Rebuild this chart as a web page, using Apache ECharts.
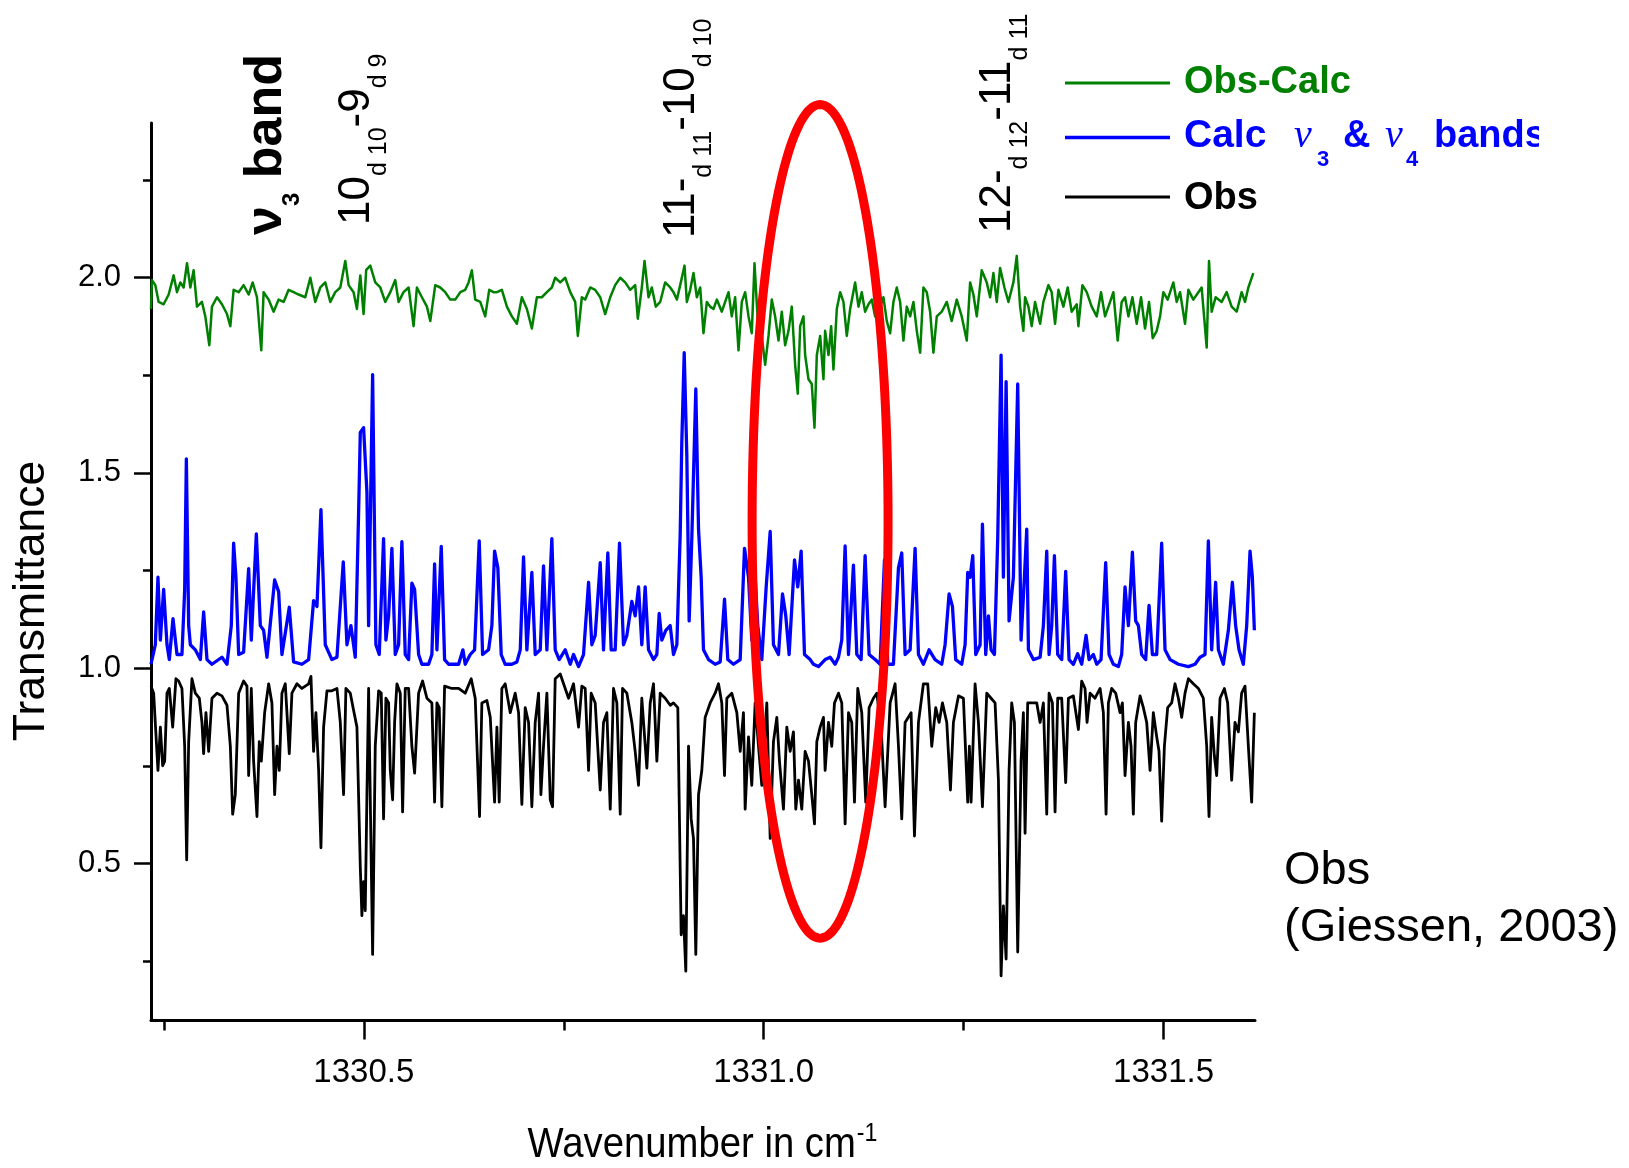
<!DOCTYPE html>
<html><head><meta charset="utf-8">
<script src="https://cdn.jsdelivr.net/npm/echarts@6/dist/echarts.min.js"></script>
<style>html,body{margin:0;padding:0;background:#fff}#c{width:1629px;height:1168px}</style>
</head><body><div id="c"></div>
<script>
// ---------- DATA ----------
const obsWn=[1330.2339,1330.2372,1330.2426,1330.2456,1330.2485,1330.2510,1330.2539,1330.2568,1330.2610,1330.2651,1330.2685,1330.2726,1330.2760,1330.2785,1330.2810,1330.2851,1330.2893,1330.2943,1330.2976,1330.2997,1330.3026,1330.3060,1330.3101,1330.3164,1330.3226,1330.3289,1330.3331,1330.3360,1330.3393,1330.3435,1330.3497,1330.3539,1330.3560,1330.3593,1330.3622,1330.3664,1330.3693,1330.3718,1330.3760,1330.3810,1330.3851,1330.3885,1330.3914,1330.3943,1330.3976,1330.4018,1330.4068,1330.4101,1330.4164,1330.4226,1330.4310,1330.4339,1330.4372,1330.4401,1330.4435,1330.4464,1330.4497,1330.4539,1330.4601,1330.4664,1330.4706,1330.4747,1330.4776,1330.4831,1330.4872,1330.4914,1330.4956,1330.4976,1330.4997,1330.5018,1330.5039,1330.5060,1330.5110,1330.5143,1330.5185,1330.5218,1330.5247,1330.5276,1330.5310,1330.5331,1330.5360,1330.5385,1330.5414,1330.5456,1330.5485,1330.5518,1330.5560,1330.5601,1330.5635,1330.5685,1330.5735,1330.5789,1330.5851,1330.5885,1330.5914,1330.5943,1330.5976,1330.6010,1330.6101,1330.6185,1330.6268,1330.6343,1330.6393,1330.6447,1330.6476,1330.6539,1330.6581,1330.6635,1330.6664,1330.6693,1330.6726,1330.6768,1330.6831,1330.6893,1330.6935,1330.6976,1330.7018,1330.7060,1330.7101,1330.7143,1330.7185,1330.7214,1330.7247,1330.7289,1330.7331,1330.7360,1330.7393,1330.7456,1330.7518,1330.7560,1330.7622,1330.7685,1330.7726,1330.7768,1330.7810,1330.7843,1330.7893,1330.7956,1330.7997,1330.8039,1330.8081,1330.8122,1330.8164,1330.8206,1330.8235,1330.8289,1330.8351,1330.8393,1330.8435,1330.8476,1330.8539,1330.8581,1330.8622,1330.8664,1330.8706,1330.8768,1330.8831,1330.8872,1330.8926,1330.8968,1330.8997,1330.9026,1330.9060,1330.9093,1330.9122,1330.9151,1330.9185,1330.9226,1330.9268,1330.9331,1330.9393,1330.9435,1330.9476,1330.9510,1330.9539,1330.9601,1330.9664,1330.9706,1330.9747,1330.9768,1330.9810,1330.9851,1330.9893,1330.9935,1330.9976,1331.0039,1331.0081,1331.0122,1331.0164,1331.0197,1331.0247,1331.0289,1331.0331,1331.0372,1331.0401,1331.0435,1331.0476,1331.0518,1331.0560,1331.0601,1331.0635,1331.0664,1331.0706,1331.0747,1331.0768,1331.0810,1331.0851,1331.0885,1331.0935,1331.0976,1331.1018,1331.1060,1331.1101,1331.1135,1331.1176,1331.1226,1331.1276,1331.1318,1331.1372,1331.1414,1331.1468,1331.1518,1331.1581,1331.1643,1331.1685,1331.1726,1331.1768,1331.1843,1331.1885,1331.1935,1331.1997,1331.2051,1331.2101,1331.2151,1331.2193,1331.2235,1331.2289,1331.2335,1331.2372,1331.2435,1331.2497,1331.2551,1331.2572,1331.2593,1331.2643,1331.2685,1331.2735,1331.2789,1331.2843,1331.2893,1331.2935,1331.2968,1331.2997,1331.3031,1331.3068,1331.3101,1331.3135,1331.3176,1331.3218,1331.3247,1331.3268,1331.3301,1331.3351,1331.3414,1331.3456,1331.3497,1331.3539,1331.3568,1331.3610,1331.3643,1331.3676,1331.3726,1331.3776,1331.3810,1331.3872,1331.3935,1331.3976,1331.4018,1331.4043,1331.4081,1331.4143,1331.4206,1331.4247,1331.4281,1331.4310,1331.4351,1331.4401,1331.4456,1331.4485,1331.4518,1331.4560,1331.4593,1331.4622,1331.4651,1331.4706,1331.4747,1331.4789,1331.4831,1331.4872,1331.4914,1331.4943,1331.4976,1331.5010,1331.5051,1331.5101,1331.5143,1331.5185,1331.5226,1331.5268,1331.5310,1331.5372,1331.5435,1331.5497,1331.5539,1331.5568,1331.5601,1331.5635,1331.5664,1331.5706,1331.5760,1331.5801,1331.5851,1331.5893,1331.5935,1331.5976,1331.6018,1331.6060,1331.6101,1331.6135];
const obsT=[0.954,0.936,0.738,0.849,0.750,0.762,0.936,0.948,0.849,0.973,0.967,0.948,0.800,0.509,0.812,0.973,0.936,0.923,0.861,0.781,0.886,0.787,0.923,0.936,0.929,0.905,0.800,0.626,0.676,0.936,0.967,0.954,0.725,0.948,0.762,0.620,0.812,0.762,0.886,0.960,0.911,0.676,0.800,0.738,0.936,0.960,0.781,0.936,0.960,0.948,0.960,0.979,0.787,0.886,0.738,0.540,0.849,0.942,0.942,0.948,0.861,0.676,0.948,0.936,0.892,0.849,0.490,0.366,0.453,0.379,0.676,0.948,0.267,0.800,0.942,0.936,0.614,0.923,0.911,0.738,0.663,0.861,0.960,0.936,0.632,0.948,0.948,0.800,0.731,0.936,0.967,0.923,0.911,0.657,0.911,0.899,0.645,0.954,0.948,0.948,0.936,0.973,0.923,0.620,0.911,0.917,0.874,0.657,0.849,0.657,0.948,0.960,0.886,0.936,0.886,0.651,0.899,0.861,0.645,0.861,0.936,0.676,0.800,0.936,0.663,0.645,0.973,0.985,0.948,0.923,0.960,0.849,0.954,0.948,0.738,0.936,0.911,0.688,0.861,0.886,0.639,0.948,0.911,0.626,0.948,0.936,0.861,0.787,0.700,0.923,0.744,0.911,0.960,0.762,0.936,0.923,0.905,0.911,0.899,0.317,0.366,0.224,0.800,0.614,0.564,0.267,0.676,0.738,0.874,0.911,0.936,0.960,0.911,0.725,0.923,0.936,0.886,0.787,0.886,0.639,0.824,0.700,0.911,0.800,0.700,0.911,0.564,0.812,0.874,0.762,0.639,0.849,0.787,0.837,0.639,0.713,0.639,0.787,0.762,0.676,0.601,0.812,0.849,0.874,0.738,0.861,0.800,0.911,0.936,0.911,0.601,0.886,0.861,0.657,0.948,0.886,0.657,0.899,0.923,0.936,0.849,0.645,0.911,0.960,0.800,0.614,0.861,0.886,0.570,0.861,0.960,0.960,0.800,0.899,0.861,0.911,0.861,0.688,0.861,0.929,0.923,0.657,0.800,0.657,0.960,0.861,0.645,0.936,0.923,0.911,0.713,0.212,0.391,0.255,0.738,0.911,0.861,0.273,0.762,0.886,0.577,0.911,0.911,0.911,0.861,0.911,0.626,0.936,0.911,0.632,0.923,0.923,0.707,0.923,0.929,0.843,0.967,0.948,0.861,0.936,0.923,0.948,0.886,0.626,0.911,0.948,0.936,0.886,0.911,0.725,0.861,0.800,0.626,0.861,0.929,0.899,0.861,0.738,0.886,0.824,0.787,0.608,0.800,0.899,0.911,0.960,0.923,0.874,0.936,0.973,0.960,0.948,0.923,0.800,0.620,0.874,0.775,0.725,0.923,0.948,0.911,0.713,0.861,0.837,0.936,0.954,0.800,0.657,0.886];

const calcWn=[1330.2339,1330.2393,1330.2426,1330.2456,1330.2497,1330.2539,1330.2568,1330.2614,1330.2664,1330.2726,1330.2760,1330.2781,1330.2810,1330.2831,1330.2893,1330.2956,1330.2997,1330.3039,1330.3101,1330.3226,1330.3289,1330.3343,1330.3372,1330.3401,1330.3435,1330.3497,1330.3560,1330.3593,1330.3656,1330.3706,1330.3747,1330.3789,1330.3885,1330.3935,1330.3976,1330.4068,1330.4122,1330.4226,1330.4310,1330.4372,1330.4414,1330.4464,1330.4518,1330.4601,1330.4664,1330.4743,1330.4789,1330.4839,1330.4893,1330.4935,1330.4956,1330.4997,1330.5039,1330.5060,1330.5110,1330.5151,1330.5193,1330.5247,1330.5276,1330.5310,1330.5351,1330.5393,1330.5435,1330.5476,1330.5518,1330.5560,1330.5601,1330.5635,1330.5685,1330.5726,1330.5810,1330.5851,1330.5885,1330.5914,1330.5968,1330.6010,1330.6060,1330.6185,1330.6239,1330.6268,1330.6331,1330.6385,1330.6443,1330.6485,1330.6560,1330.6601,1330.6635,1330.6676,1330.6718,1330.6768,1330.6851,1330.6914,1330.6956,1330.6997,1330.7039,1330.7101,1330.7143,1330.7206,1330.7247,1330.7289,1330.7351,1330.7393,1330.7443,1330.7518,1330.7581,1330.7622,1330.7685,1330.7747,1330.7810,1330.7851,1330.7893,1330.7956,1330.7997,1330.8051,1330.8093,1330.8143,1330.8197,1330.8247,1330.8289,1330.8351,1330.8393,1330.8435,1330.8476,1330.8518,1330.8560,1330.8622,1330.8664,1330.8693,1330.8726,1330.8776,1330.8831,1330.8872,1330.8914,1330.8956,1330.8976,1330.9006,1330.9039,1330.9068,1330.9101,1330.9151,1330.9185,1330.9218,1330.9247,1330.9310,1330.9393,1330.9456,1330.9510,1330.9551,1330.9622,1330.9706,1330.9760,1330.9810,1330.9851,1330.9893,1330.9926,1330.9976,1331.0031,1331.0081,1331.0122,1331.0185,1331.0235,1331.0276,1331.0318,1331.0385,1331.0426,1331.0468,1331.0510,1331.0581,1331.0622,1331.0685,1331.0768,1331.0831,1331.0893,1331.0935,1331.0976,1331.1018,1331.1060,1331.1122,1331.1164,1331.1218,1331.1268,1331.1318,1331.1393,1331.1456,1331.1510,1331.1551,1331.1622,1331.1685,1331.1726,1331.1768,1331.1831,1331.1893,1331.1935,1331.1997,1331.2068,1331.2143,1331.2226,1331.2268,1331.2318,1331.2360,1331.2401,1331.2476,1331.2518,1331.2551,1331.2581,1331.2614,1331.2651,1331.2706,1331.2735,1331.2776,1331.2810,1331.2843,1331.2885,1331.2926,1331.2968,1331.2997,1331.3031,1331.3068,1331.3122,1331.3176,1331.3218,1331.3260,1331.3289,1331.3310,1331.3372,1331.3456,1331.3497,1331.3539,1331.3568,1331.3601,1331.3635,1331.3676,1331.3726,1331.3776,1331.3818,1331.3872,1331.3926,1331.3976,1331.4031,1331.4068,1331.4122,1331.4164,1331.4218,1331.4276,1331.4318,1331.4372,1331.4435,1331.4476,1331.4518,1331.4560,1331.4610,1331.4651,1331.4685,1331.4726,1331.4776,1331.4818,1331.4860,1331.4914,1331.4976,1331.5018,1331.5081,1331.5185,1331.5310,1331.5393,1331.5456,1331.5518,1331.5560,1331.5601,1331.5651,1331.5685,1331.5747,1331.5810,1331.5860,1331.5901,1331.5943,1331.5997,1331.6039,1331.6081,1331.6110,1331.6135];
const calcT=[1.010,1.060,1.233,1.072,1.202,1.060,1.022,1.127,1.035,1.035,1.200,1.536,1.109,1.060,1.047,1.022,1.144,1.022,1.010,1.028,1.010,1.109,1.320,1.233,1.035,1.041,1.255,1.072,1.344,1.109,1.097,1.028,1.226,1.196,1.035,1.156,1.016,1.010,1.022,1.173,1.158,1.406,1.060,1.022,1.028,1.272,1.060,1.109,1.028,1.400,1.604,1.616,1.450,1.109,1.752,1.060,1.035,1.332,1.072,1.134,1.307,1.035,1.060,1.324,1.035,1.022,1.218,1.202,1.035,1.010,1.010,1.035,1.267,1.047,1.312,1.022,1.010,1.010,1.047,1.010,1.035,1.047,1.326,1.035,1.047,1.109,1.300,1.257,1.035,1.010,1.010,1.016,1.047,1.285,1.047,1.245,1.035,1.047,1.262,1.047,1.332,1.047,1.022,1.047,1.010,1.035,1.004,1.035,1.220,1.060,1.084,1.270,1.047,1.295,1.047,1.047,1.320,1.060,1.084,1.171,1.134,1.208,1.060,1.208,1.047,1.022,1.035,1.140,1.072,1.097,1.109,1.035,1.060,1.344,1.579,1.808,1.542,1.121,1.332,1.715,1.356,1.233,1.047,1.022,1.010,1.016,1.177,1.022,1.010,1.022,1.307,1.233,1.072,1.233,1.109,1.022,1.208,1.350,1.060,1.035,1.190,1.134,1.035,1.277,1.208,1.300,1.035,1.022,1.010,1.004,1.022,1.028,1.010,1.028,1.072,1.313,1.035,1.264,1.035,1.022,1.288,1.035,1.022,1.010,1.277,1.010,1.010,1.257,1.295,1.035,1.047,1.307,1.035,1.010,1.047,1.022,1.010,1.060,1.190,1.158,1.022,1.010,1.060,1.245,1.233,1.288,1.035,1.060,1.369,1.035,1.134,1.047,1.035,1.332,1.802,1.233,1.734,1.121,1.233,1.728,1.072,1.233,1.356,1.047,1.022,1.028,1.109,1.300,1.035,1.109,1.288,1.035,1.022,1.248,1.022,1.010,1.037,1.010,1.084,1.022,1.035,1.010,1.022,1.270,1.035,1.010,1.004,1.035,1.208,1.109,1.297,1.121,1.109,1.035,1.022,1.161,1.035,1.035,1.320,1.047,1.022,1.010,1.004,1.010,1.028,1.035,1.326,1.047,1.220,1.047,1.010,1.097,1.220,1.109,1.047,1.010,1.109,1.300,1.233,1.097];

const diffWn=[1330.2339,1330.2351,1330.2393,1330.2435,1330.2497,1330.2560,1330.2622,1330.2664,1330.2706,1330.2747,1330.2789,1330.2831,1330.2872,1330.2914,1330.2976,1330.3018,1330.3068,1330.3101,1330.3164,1330.3226,1330.3289,1330.3331,1330.3372,1330.3435,1330.3497,1330.3560,1330.3610,1330.3664,1330.3718,1330.3747,1330.3810,1330.3872,1330.3935,1330.3997,1330.4060,1330.4122,1330.4185,1330.4268,1330.4331,1330.4393,1330.4456,1330.4518,1330.4581,1330.4643,1330.4706,1330.4768,1330.4810,1330.4872,1330.4914,1330.4956,1330.4997,1330.5030,1330.5081,1330.5143,1330.5206,1330.5268,1330.5331,1330.5393,1330.5435,1330.5497,1330.5560,1330.5622,1330.5664,1330.5726,1330.5789,1330.5831,1330.5893,1330.5956,1330.6018,1330.6081,1330.6143,1330.6206,1330.6268,1330.6310,1330.6351,1330.6393,1330.6456,1330.6518,1330.6568,1330.6622,1330.6664,1330.6726,1330.6789,1330.6851,1330.6914,1330.6976,1330.7039,1330.7101,1330.7164,1330.7226,1330.7289,1330.7351,1330.7393,1330.7456,1330.7518,1330.7581,1330.7643,1330.7676,1330.7726,1330.7768,1330.7831,1330.7893,1330.7956,1330.8018,1330.8081,1330.8143,1330.8206,1330.8268,1330.8331,1330.8393,1330.8426,1330.8476,1330.8510,1330.8560,1330.8601,1330.8651,1330.8706,1330.8768,1330.8831,1330.8872,1330.8914,1330.8956,1330.9010,1330.9039,1330.9081,1330.9122,1330.9164,1330.9206,1330.9247,1330.9289,1330.9331,1330.9372,1330.9414,1330.9476,1330.9518,1330.9560,1330.9601,1330.9643,1330.9685,1330.9726,1330.9768,1330.9810,1330.9851,1330.9885,1330.9926,1330.9976,1331.0018,1331.0060,1331.0101,1331.0143,1331.0185,1331.0226,1331.0268,1331.0310,1331.0351,1331.0393,1331.0426,1331.0456,1331.0497,1331.0518,1331.0560,1331.0601,1331.0635,1331.0664,1331.0706,1331.0747,1331.0768,1331.0810,1331.0843,1331.0872,1331.0914,1331.0956,1331.0997,1331.1039,1331.1081,1331.1143,1331.1185,1331.1226,1331.1268,1331.1310,1331.1351,1331.1393,1331.1435,1331.1497,1331.1539,1331.1581,1331.1622,1331.1664,1331.1706,1331.1747,1331.1789,1331.1831,1331.1872,1331.1914,1331.1956,1331.1997,1331.2039,1331.2081,1331.2122,1331.2164,1331.2226,1331.2289,1331.2351,1331.2414,1331.2476,1331.2539,1331.2581,1331.2622,1331.2664,1331.2726,1331.2789,1331.2831,1331.2872,1331.2914,1331.2956,1331.3010,1331.3060,1331.3122,1331.3164,1331.3206,1331.3247,1331.3268,1331.3310,1331.3351,1331.3393,1331.3456,1331.3497,1331.3560,1331.3601,1331.3643,1331.3685,1331.3747,1331.3801,1331.3851,1331.3914,1331.3935,1331.3985,1331.4039,1331.4101,1331.4164,1331.4218,1331.4268,1331.4331,1331.4372,1331.4426,1331.4476,1331.4518,1331.4560,1331.4610,1331.4664,1331.4718,1331.4768,1331.4818,1331.4864,1331.4914,1331.4956,1331.4997,1331.5051,1331.5122,1331.5164,1331.5206,1331.5268,1331.5310,1331.5372,1331.5435,1331.5476,1331.5539,1331.5568,1331.5601,1331.5651,1331.5726,1331.5789,1331.5851,1331.5914,1331.5976,1331.6018,1331.6060,1331.6122];
const diffT=[1.920,1.994,1.981,1.938,1.932,1.957,2.006,1.963,1.988,1.975,2.037,1.975,2.019,1.926,1.938,1.901,1.827,1.926,1.950,1.932,1.907,1.876,1.969,1.963,1.981,1.957,1.988,1.950,1.814,1.963,1.944,1.913,1.944,1.938,1.969,1.963,1.957,1.950,2.000,1.938,1.975,1.988,1.938,1.963,1.975,2.043,1.981,1.963,1.920,2.006,1.907,2.020,2.031,1.988,1.975,1.938,1.963,1.994,1.938,1.963,1.975,1.876,1.975,1.950,1.926,1.889,1.981,1.975,1.963,1.944,1.944,1.963,1.969,1.988,2.019,1.944,1.938,1.901,1.969,1.963,1.963,1.969,1.926,1.901,1.882,1.950,1.920,1.870,1.950,1.950,1.963,1.975,2.000,1.988,2.000,1.963,1.938,1.851,1.950,1.944,1.975,1.969,1.950,1.907,1.950,1.981,2.000,1.988,1.969,1.981,1.895,1.975,2.043,1.950,1.975,1.926,1.938,1.988,1.975,1.963,1.944,1.981,2.031,1.938,1.969,2.012,1.950,1.975,1.858,1.938,1.926,1.920,1.944,1.913,1.938,1.963,1.901,1.950,1.814,1.938,1.963,1.901,1.858,2.037,1.889,1.851,1.777,1.851,1.944,1.901,1.839,1.913,1.827,1.864,1.926,1.777,1.703,1.876,1.901,1.802,1.740,1.728,1.616,1.802,1.851,1.740,1.864,1.802,1.876,1.765,1.920,1.963,1.938,1.851,1.920,1.988,1.926,1.963,1.913,1.932,1.944,1.901,1.913,1.950,1.889,1.858,1.938,1.975,1.938,1.839,1.926,1.901,1.938,1.864,1.808,1.975,1.963,1.913,1.808,1.901,1.913,1.938,1.889,1.944,1.901,1.839,1.988,1.957,1.901,2.019,1.988,1.950,2.012,1.938,2.025,1.975,1.938,1.988,2.056,1.926,1.864,1.950,1.926,1.876,1.938,1.882,1.938,1.981,1.963,1.882,1.969,1.926,1.975,1.913,1.932,1.876,1.981,1.963,1.926,1.901,1.963,1.901,1.938,1.963,1.839,1.938,1.950,1.901,1.950,1.882,1.950,1.870,1.938,1.845,1.864,1.901,1.963,1.944,1.988,1.938,1.963,1.882,1.969,1.944,1.963,1.975,1.821,2.043,1.913,1.950,1.938,1.963,1.926,1.913,1.963,1.938,1.975,2.012];

// axis ticks / labels / titles
const xRange=[1330.2339,1331.6143];
const yRange=[0.0976,2.3963];
const xMajorTicks=[1330.5,1331.0,1331.5];
const xMinorTicks=[1330.25,1330.75,1331.25];
const yMajorTicks=[0.5,1.0,1.5,2.0];
const yMinorTicks=[0.25,0.75,1.25,1.75,2.25];
const xTitle=['Wavenumber in cm','-1'];
const yTitle='Transmittance';

// ---------- CHART ----------
const FONT='"Liberation Sans", Arial, Helvetica, sans-serif';
const SERIF='"Liberation Serif", "Times New Roman", serif';
const GREEN='#008000', BLUE='#0000ff', BLACK='#000000';
const chart=echarts.init(document.getElementById('c'),null,{renderer:'canvas',width:1629,height:1168});
const zip=(a,b)=>a.map((v,i)=>[v,b[i]]);

const tickStyle={color:'#000',width:2.5};
const option={
  animation:false,
  backgroundColor:'#fff',
  grid:{left:151,right:374,top:123,bottom:147.5,containLabel:false,outerBoundsMode:'none'},
  xAxis:[{
    type:'value',min:xRange[0],max:xRange[1],position:'bottom',
    axisLine:{show:true,onZero:false,lineStyle:{color:'#000',width:3}},
    axisTick:{show:true,customValues:xMajorTicks,length:19,lineStyle:tickStyle},
    axisLabel:{show:true,customValues:xMajorTicks,formatter:v=>v.toFixed(1),fontSize:33,color:'#000',fontFamily:FONT,margin:36},
    splitLine:{show:false}
  },{
    type:'value',min:xRange[0],max:xRange[1],position:'bottom',
    axisLine:{show:false,onZero:false},
    axisTick:{show:true,customValues:xMinorTicks,length:10,lineStyle:tickStyle},
    axisLabel:{show:false},splitLine:{show:false}
  }],
  yAxis:[{
    type:'value',min:yRange[0],max:yRange[1],position:'left',
    axisLine:{show:true,onZero:false,lineStyle:{color:'#000',width:3}},
    axisTick:{show:true,customValues:yMajorTicks,length:17,lineStyle:tickStyle},
    axisLabel:{show:true,customValues:yMajorTicks,formatter:v=>v.toFixed(1),fontSize:31,color:'#000',fontFamily:FONT,margin:30},
    splitLine:{show:false}
  },{
    type:'value',min:yRange[0],max:yRange[1],position:'left',
    axisLine:{show:false,onZero:false},
    axisTick:{show:true,customValues:yMinorTicks,length:8,lineStyle:tickStyle},
    axisLabel:{show:false},splitLine:{show:false}
  }],
  series:[
    {name:'Obs',type:'line',data:zip(obsWn,obsT),showSymbol:false,symbol:'none',clip:true,
     lineStyle:{color:BLACK,width:2.8,join:'round'},itemStyle:{color:BLACK},z:2},
    {name:'Calc',type:'line',data:zip(calcWn,calcT),showSymbol:false,symbol:'none',clip:true,
     lineStyle:{color:BLUE,width:3.3,join:'round'},itemStyle:{color:BLUE},z:3},
    {name:'Obs-Calc',type:'line',data:zip(diffWn,diffT),showSymbol:false,symbol:'none',clip:true,
     lineStyle:{color:GREEN,width:2.5,join:'round'},itemStyle:{color:GREEN},z:4}
  ]
};
chart.setOption(option);

// ---------- ANNOTATIONS ----------
const ctx=document.createElement('canvas').getContext('2d');
function tw(t,size,weight,family,style){ctx.font=(style||'normal')+' '+(weight||'normal')+' '+size+'px '+(family||FONT);return ctx.measureText(t).width;}
function txt(t,x,y,size,opt){
  opt=opt||{};
  return {type:'text',x:x,y:y,rotation:opt.rotation||0,scaleX:opt.sx||1,scaleY:1,z:60,silent:true,
    style:{text:t,fontSize:size,fontFamily:opt.family||FONT,fontWeight:opt.bold?'bold':'normal',
      fontStyle:opt.italic?'italic':'normal',fill:opt.color||'#000',
      align:opt.align||'left',verticalAlign:'middle',textAlign:opt.align||'left',textVerticalAlign:'middle'}};
}
// horizontal text with given left x and baseline y
function hText(t,x,base,size,opt){return txt(t,x,base-0.3465*size,size,opt);}
// rotated (bottom-to-top) text built from parts; xb = baseline x, y0 = starting (bottom) y
function rotLabel(parts,xb,y0,color){
  let y=y0;const els=[];
  parts.forEach(p=>{
    const w=tw(p.t,p.size,p.bold?'bold':'normal');
    els.push(txt(p.t,xb+(p.sub||0)-0.3465*p.size,y,p.size,{rotation:Math.PI/2,bold:p.bold,color:color}));
    y-=w;
  });
  return els;
}
const g=[];
// band label and transition labels
g.push(...rotLabel([{t:'ν',size:52,bold:true},{t:'3',size:24,bold:true,sub:16},{t:' band',size:52,bold:true}],285,235));
g.push(...rotLabel([{t:'10',size:44},{t:'d 10',size:25,sub:16},{t:'-9',size:44},{t:'d 9',size:25,sub:16}],372,225));
g.push(...rotLabel([{t:'11-',size:44},{t:'d 11',size:25,sub:16},{t:'-10',size:44},{t:'d 10',size:25,sub:16}],697,238));
g.push(...rotLabel([{t:'12-',size:44},{t:'d 12',size:25,sub:16},{t:'-11',size:44},{t:'d 11',size:25,sub:16}],1013,233));
// axis titles
g.push(txt(yTitle,31.5,601,44.5,{rotation:Math.PI/2,align:'center'}));
(function(){
  const sx=0.89, s1=43, s2=26;
  const w1=tw(xTitle[0],s1)*sx, w2=tw(xTitle[1],s2)*sx;
  const x0=702-(w1+w2)/2;
  g.push(hText(xTitle[0],x0,1160,s1,{sx:sx}));
  g.push(hText(xTitle[1],x0+w1+1,1143,s2,{sx:sx}));
})();
// legend
g.push({type:'line',shape:{x1:1065,y1:83,x2:1170,y2:83},style:{stroke:GREEN,lineWidth:3},z:60,silent:true});
g.push(hText('Obs-Calc',1184,96,38,{bold:true,color:GREEN}));
g.push({type:'line',shape:{x1:1065,y1:137.5,x2:1170,y2:137.5},style:{stroke:BLUE,lineWidth:3.5},z:60,silent:true});
g.push(hText('Calc',1184,150,39,{bold:true,color:BLUE}));
g.push(hText('ν',1294,150,40,{italic:true,family:SERIF,color:BLUE}));
g.push(hText('3',1317,168,22,{bold:true,color:BLUE}));
g.push(hText('&',1343,150,38,{bold:true,color:BLUE}));
g.push(hText('ν',1385,150,40,{italic:true,family:SERIF,color:BLUE}));
g.push(hText('4',1406,168,22,{bold:true,color:BLUE}));
g.push(hText('bands',1434,150,38,{bold:true,color:BLUE}));
g.push({type:'rect',shape:{x:1539,y:110,width:90,height:70},style:{fill:'#fff'},z:61,silent:true});
g.push({type:'line',shape:{x1:1065,y1:197,x2:1170,y2:197},style:{stroke:BLACK,lineWidth:3},z:60,silent:true});
g.push(hText('Obs',1184,211.7,38,{bold:true,color:BLACK}));
// source note
g.push(hText('Obs',1284,887,47));
g.push(hText('(Giessen, 2003)',1284,944,47));
// red ellipse around the residual feature (data coordinates)
const ec=[1331.0705,1.376], erx=0.085, ery=1.0675;
const pts=[];
for(let i=0;i<180;i++){
  const a=i/180*2*Math.PI;
  pts.push(chart.convertToPixel({gridIndex:0},[ec[0]+erx*Math.cos(a),ec[1]+ery*Math.sin(a)]));
}
g.push({type:'polygon',shape:{points:pts},style:{fill:'none',stroke:'#ff0000',lineWidth:9},z:70,silent:true});

chart.setOption({graphic:{elements:g}});
</script>
</body></html>
